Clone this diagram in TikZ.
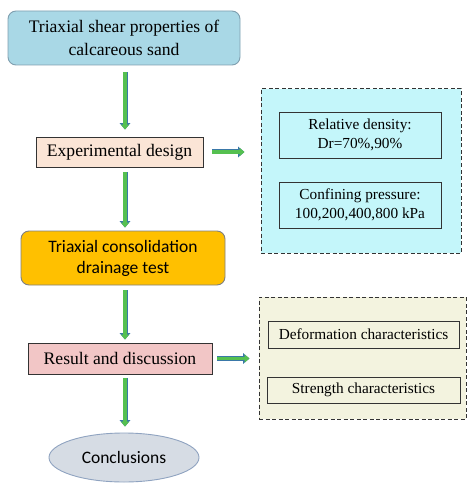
\documentclass[tikz,border=0pt]{standalone}
\usepackage{fontspec}
\setmainfont{Liberation Serif}
\newfontfamily\tnr{Liberation Serif}
\newfontfamily\calib{Carlito}
\usetikzlibrary{arrows.meta,shapes.geometric}
\definecolor{topfill}{HTML}{A9D8E6}
\definecolor{topdraw}{HTML}{7F9FAF}
\definecolor{expfill}{HTML}{FBE5D6}
\definecolor{cyanfill}{HTML}{C4F6FA}
\definecolor{orangefill}{HTML}{FFC000}
\definecolor{resfill}{HTML}{F2C6C6}
\definecolor{ellfill}{HTML}{D6DCE4}
\definecolor{elldraw}{HTML}{8FA3C0}
\definecolor{beigefill}{HTML}{F3F3DF}
\definecolor{agreen}{HTML}{55C050}
\definecolor{ablue}{HTML}{3A78A8}
\definecolor{dk}{HTML}{333333}
\tikzset{
  box/.style={draw=dk, line width=0.9pt, inner sep=0pt, align=center},
  rbox/.style={draw=#1, line width=0.9pt, rounded corners=8pt, inner sep=0pt, align=center},
  dbox/.style={draw=dk, dashed, line width=1pt, dash pattern=on 4pt off 2.5pt, inner sep=0pt},
  bigserif/.style={font=\tnr\fontsize{17.6}{23}\selectfont},
  smallserif/.style={font=\tnr\fontsize{15.3}{19}\selectfont},
  bigsans/.style={font=\calib\fontsize{17.5}{21}\selectfont},
  garrow/.style={line width=3.4pt, draw=agreen, -{Triangle[length=5pt,width=8pt]},
    preaction={draw=ablue, line width=5pt, -{Triangle[length=6.5pt,width=10.5pt]}}},
}
\begin{document}
\begin{tikzpicture}[x=1pt,y=-1pt]
\useasboundingbox (0,0) rectangle (474,494);
\coordinate (ax) at (125,0);
% left column
\node[rbox=topdraw, fill=topfill, minimum width=232pt, minimum height=54pt, bigserif] (top) at (124,38) {Triaxial shear properties of\\calcareous sand};
\node[box, fill=expfill, minimum width=167pt, minimum height=30pt, bigserif] (exp) at (119.5,152) {Experimental design};
\node[rbox=gray, fill=orangefill, minimum width=204pt, minimum height=54pt, bigsans] (tri) at (123,258) {Triaxial consolidation\\drainage test};
\node[box, fill=resfill, minimum width=184pt, minimum height=31pt, bigserif] (res) at (120,358.5) {Result and discussion};
\node[ellipse, draw=elldraw, line width=0.9pt, fill=ellfill, minimum width=150pt, minimum height=49pt, inner sep=0pt, bigsans] (con) at (124,457.5) {Conclusions};
% right groups
\node[dbox, fill=cyanfill, minimum width=200pt, minimum height=164pt] (d1) at (361,171) {};
\node[box, fill=cyanfill, minimum width=162pt, minimum height=46pt, smallserif] (rd) at (360,135) {Relative density:\\Dr=70\%,90\%};
\node[box, fill=cyanfill, minimum width=162pt, minimum height=46pt, smallserif] (cp) at (360,205) {Confining pressure:\\100,200,400,800 kPa};
\node[dbox, fill=beigefill, minimum width=207pt, minimum height=122pt] (d2) at (362.5,358) {};
\node[box, fill=beigefill, minimum width=191pt, minimum height=27pt, smallserif] (def) at (363.5,334.5) {Deformation characteristics};
\node[box, fill=beigefill, minimum width=193pt, minimum height=26pt, smallserif] (str) at (363.5,390) {Strength characteristics};
% arrows
\draw[garrow, shorten <=7pt, shorten >=7pt] (top.south -| ax) -- (exp.north -| ax);
\draw[garrow, shorten <=5pt, shorten >=3pt] (exp.south -| ax) -- (tri.north -| ax);
\draw[garrow, shorten <=5pt, shorten >=3pt] (tri.south -| ax) -- (res.north -| ax);
\draw[garrow, shorten <=4pt, shorten >=6pt] (res.south -| ax) -- (con.north -| ax);
\draw[garrow, shorten <=9pt, shorten >=16pt] (exp.east) -- (exp.east -| d1.west);
\draw[garrow, shorten <=5pt, shorten >=9pt] (res.east) -- (res.east -| d2.west);
\end{tikzpicture}
\end{document}
